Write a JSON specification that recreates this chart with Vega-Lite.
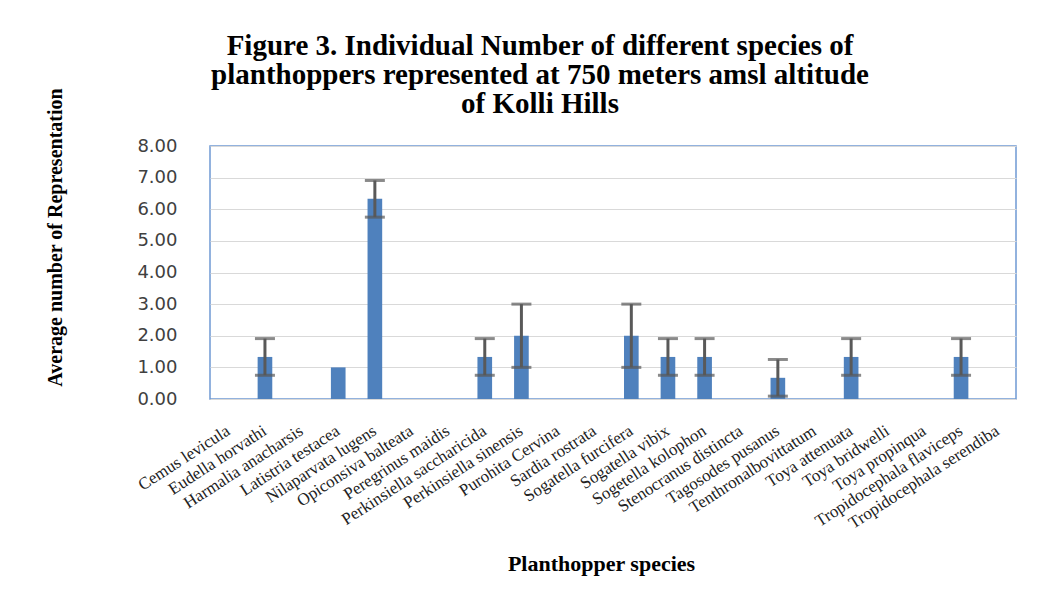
{
  "$schema": "https://vega.github.io/schema/vega-lite/v6.json",
  "width": 806,
  "height": 253,
  "autosize": {"type": "none"},
  "padding": {"left": 210, "top": 146, "right": 35, "bottom": 207},
  "background": "white",
  "title": {
    "text": ["Figure 3. Individual Number of different species of", "planthoppers represented at 750 meters amsl altitude", "of Kolli Hills"],
    "font": "Liberation Serif",
    "fontSize": 29,
    "fontWeight": "bold",
    "color": "#000000",
    "lineHeight": 29,
    "anchor": "middle",
    "frame": "group",
    "dx": -73,
    "offset": -31
  },
  "config": {
    "view": {"stroke": "#6f99d3", "strokeWidth": 1.5},
    "axis": {"grid": true, "gridColor": "#d9d9d9", "gridWidth": 1.2, "domain": false, "ticks": false, "tickSize": 0},
    "axisY": {
      "titleFont": "Liberation Serif",
      "titleFontSize": 20,
      "titleFontWeight": "bold",
      "titleColor": "#000000",
      "titleX": -155,
      "titleY": 91,
      "titleAngle": -90,
      "titleAlign": "center",
      "titleBaseline": "middle",
      "labelOverlap": false,
      "labelFont": "DejaVu Sans",
      "labelFontSize": 18,
      "labelColor": "#404040",
      "labelPadding": 33
    }
  },
  "data": {
    "values": [
      {"species": "Cemus levicula", "mean": 0},
      {"species": "Eudella horvathi", "mean": 1.33, "lo": 0.75, "hi": 1.91},
      {"species": "Harmalia anacharsis", "mean": 0},
      {"species": "Latistria testacea", "mean": 1.0},
      {"species": "Nilaparvata lugens", "mean": 6.33, "lo": 5.75, "hi": 6.91},
      {"species": "Opiconsiva balteata", "mean": 0},
      {"species": "Peregrinus  maidis", "mean": 0},
      {"species": "Perkinsiella saccharicida", "mean": 1.33, "lo": 0.75, "hi": 1.91},
      {"species": "Perkinsiella  sinensis", "mean": 2.0, "lo": 1.0, "hi": 3.0},
      {"species": "Purohita Cervina", "mean": 0},
      {"species": "Sardia rostrata", "mean": 0},
      {"species": "Sogatella furcifera", "mean": 2.0, "lo": 1.0, "hi": 3.0},
      {"species": "Sogatella vibix", "mean": 1.33, "lo": 0.75, "hi": 1.91},
      {"species": "Sogetella kolophon", "mean": 1.33, "lo": 0.75, "hi": 1.91},
      {"species": "Stenocranus  distincta", "mean": 0},
      {"species": "Tagosodes  pusanus", "mean": 0.67, "lo": 0.09, "hi": 1.25},
      {"species": "Tenthronalbovittatum", "mean": 0},
      {"species": "Toya attenuata", "mean": 1.33, "lo": 0.75, "hi": 1.91},
      {"species": "Toya bridwelli", "mean": 0},
      {"species": "Toya propinqua", "mean": 0},
      {"species": "Tropidocephala  flaviceps", "mean": 1.33, "lo": 0.75, "hi": 1.91},
      {"species": "Tropidocephala  serendiba", "mean": 0}
    ]
  },
  "encoding": {
    "x": {
      "field": "species",
      "type": "nominal",
      "sort": null,
      "scale": {"paddingInner": 0.6, "paddingOuter": 0.3},
      "axis": {
        "grid": false,
        "title": "Planthopper species",
        "titleFont": "Liberation Serif",
        "titleFontSize": 22,
        "titleFontWeight": "bold",
        "titleColor": "#000000",
        "titleX": 391,
        "titleY": 164,
        "titleAnchor": "middle",
        "titleAlign": "center",
        "titleBaseline": "middle",
        "labelFont": "Liberation Serif",
        "labelFontSize": 17,
        "labelColor": "#222222",
        "labelAngle": -33,
        "labelAlign": "right",
        "labelBaseline": "middle",
        "labelPadding": 30,
        "labelOverlap": false,
        "labelLimit": 300
      }
    }
  },
  "layer": [
    {
      "mark": {"type": "bar", "color": "#4F81BD"},
      "encoding": {
        "y": {
          "field": "mean",
          "type": "quantitative",
          "scale": {"domain": [0, 8]},
          "axis": {"title": "Average number of Representation", "values": [0, 1, 2, 3, 4, 5, 6, 7, 8], "format": ".2f"}
        }
      }
    },
    {
      "mark": {"type": "rule", "color": "#595959", "strokeWidth": 3},
      "encoding": {
        "y": {"field": "lo", "type": "quantitative", "axis": {"title": "Average number of Representation", "values": [0, 1, 2, 3, 4, 5, 6, 7, 8], "format": ".2f"}},
        "y2": {"field": "hi"}
      }
    },
    {
      "mark": {"type": "tick", "color": "#595959", "thickness": 3, "size": 20, "orient": "horizontal"},
      "encoding": {
        "y": {"field": "lo", "type": "quantitative", "axis": {"title": "Average number of Representation", "values": [0, 1, 2, 3, 4, 5, 6, 7, 8], "format": ".2f"}}
      }
    },
    {
      "mark": {"type": "tick", "color": "#595959", "thickness": 3, "size": 20, "orient": "horizontal"},
      "encoding": {
        "y": {"field": "hi", "type": "quantitative", "axis": {"title": "Average number of Representation", "values": [0, 1, 2, 3, 4, 5, 6, 7, 8], "format": ".2f"}}
      }
    }
  ]
}
